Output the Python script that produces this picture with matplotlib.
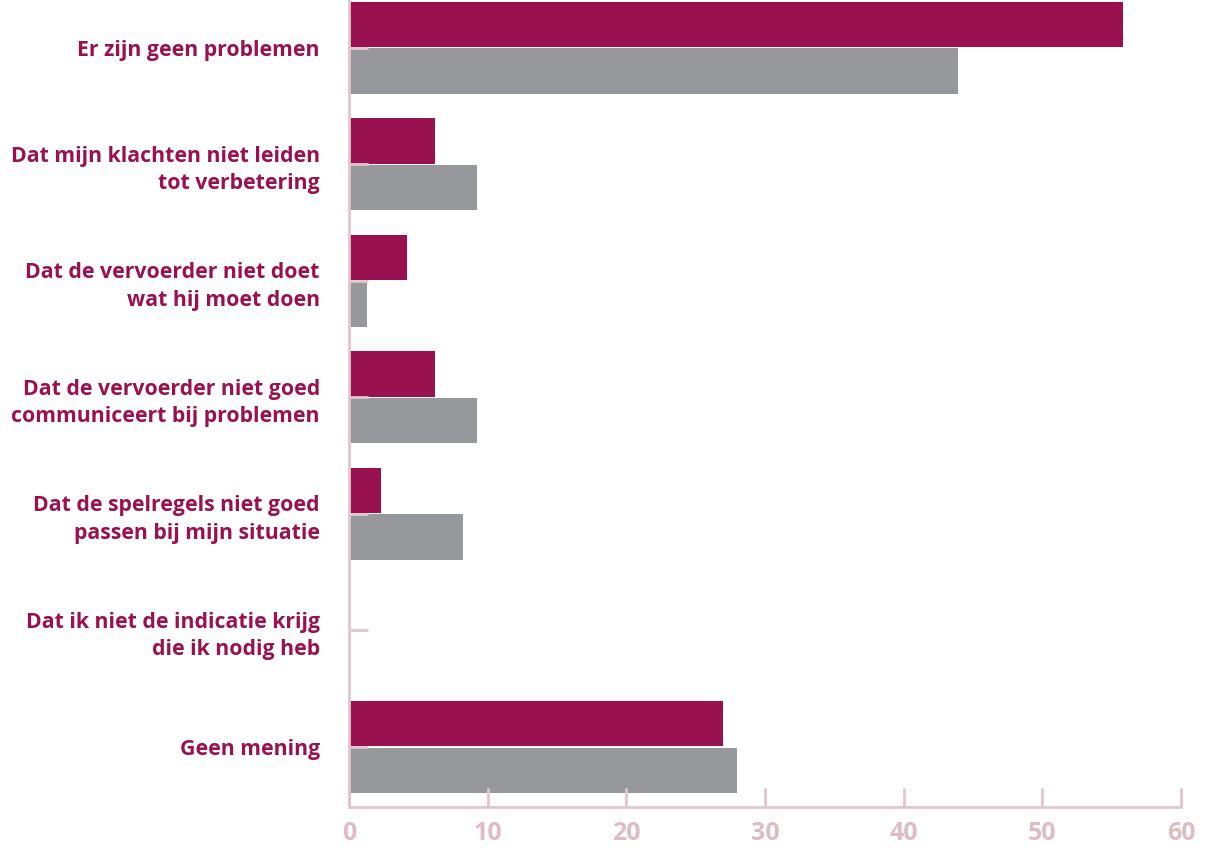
import matplotlib.pyplot as plt
import numpy as np

categories = [
    "Er zijn geen problemen",
    "Dat mijn klachten niet leiden\ntot verbetering",
    "Dat de vervoerder niet doet\nwat hij moet doen",
    "Dat de vervoerder niet goed\ncommuniceert bij problemen",
    "Dat de spelregels niet goed\npassen bij mijn situatie",
    "Dat ik niet de indicatie krijg\ndie ik nodig heb",
    "Geen mening",
]
serie_1 = [55.8, 6.2, 4.2, 6.2, 2.3, 0, 27.0]
serie_2 = [43.9, 9.2, 1.3, 9.2, 8.2, 0, 28.0]
xticks = [0, 10, 20, 30, 40, 50, 60]

magenta = "#99124F"
grijs = "#97989C"
as_kleur = "#E3C6CD"

plt.rcParams["font.family"] = ["Open Sans", "DejaVu Sans"]

fig = plt.figure(figsize=(12.16, 8.49), dpi=100)
ax = fig.add_axes([349 / 1216, 1 - 807 / 849, 832 / 1216, 807 / 849])

y = np.arange(len(categories))
h = 0.39
ax.barh(y - 0.2, serie_1, height=h, color=magenta)
ax.barh(y + 0.2, serie_2, height=h, color=grijs)

ax.set_xlim(0, 60)
ax.set_ylim(len(categories) - 1 + 0.515, -0.41)
ax.set_xticks(xticks)
ax.set_yticks(y)
ax.set_yticklabels(categories)

for s in ["top", "right"]:
    ax.spines[s].set_visible(False)
for s in ["left", "bottom"]:
    ax.spines[s].set_color(as_kleur)
    ax.spines[s].set_linewidth(2)

ax.tick_params(axis="x", direction="in", length=14, width=2, color=as_kleur,
               labelcolor="#DDBCC4", labelsize=18, pad=10)
ax.tick_params(axis="y", direction="in", length=14, width=2, color=as_kleur,
               labelcolor=magenta, labelsize=15.3, pad=21)
for lbl in ax.get_xticklabels() + ax.get_yticklabels():
    lbl.set_fontweight("bold")
for lbl in ax.get_yticklabels():
    lbl.set_linespacing(1.4)

fig.savefig("out.png", dpi=100)
